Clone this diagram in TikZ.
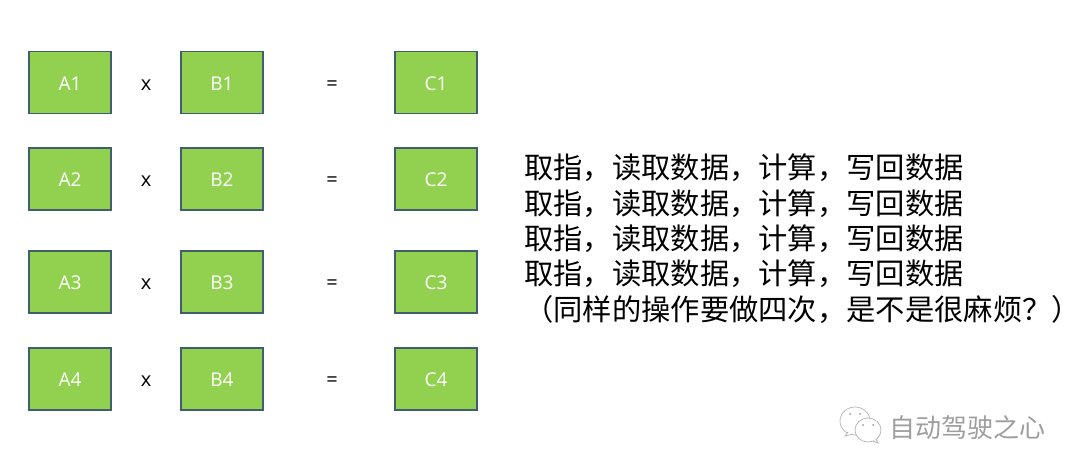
\documentclass[tikz,border=0pt]{standalone}
\usepackage{fontspec}
\setmainfont{Open Sans}
\newfontfamily\cjk{Noto Sans CJK SC}
\usetikzlibrary{positioning}
\definecolor{cellgreen}{HTML}{92D050}
\definecolor{celledge}{HTML}{3F5F6F}

\begin{document}
\begin{tikzpicture}[
	x=1pt, y=-1pt,
	cell/.style = {draw=celledge,fill=cellgreen,line width=1.5pt,minimum width=82pt,minimum height=62pt,inner sep=0pt,text=white,text height=15pt,text depth=0pt,font=\fontsize{19}{20}\selectfont},
	sign/.style = {inner sep=0pt,font=\fontsize{20}{20}\selectfont},
	fetchline/.style = {anchor=west,inner sep=0pt,font=\cjk\fontsize{29.3}{32}\selectfont},
	brandtext/.style = {anchor=west,inner sep=0pt,text=black!38,font=\cjk\fontsize{26}{28}\selectfont},
	bubble/.style = {draw=black!30,fill=white,line width=0.7pt}
  ]
	\useasboundingbox (0,0) rectangle (1080,474);

	% four rows of operands
	\foreach \row/\ypos in {1/82.5,2/179,3/282,4/379} {
		\node[cell] (A\row) at (70,\ypos) {A\row};
		\node[cell] (B\row) at (222,\ypos) {B\row};
		\node[cell] (C\row) at (436,\ypos) {C\row};
		\node[sign] (times\row) at (146,\ypos+2.5) {x};
		\node[sign] (equals\row) at (332,\ypos+3) {=};
	}

	% the text on the right
	\foreach \line/\ypos in {1/168,2/204,3/239,4/274} {
		\node[fetchline] (fetch\line) at (524,\ypos) {取指，读取数据，计算，写回数据};
	}
	\node[fetchline] (remark) at (524,310) {（同样的操作要做四次，是不是很麻烦？）};

	% chat bubbles and name at the lower right
	\draw[bubble] (855,421) ellipse (15 and 14);
	\draw[bubble] (848,432) -- (845,436) -- (853,434);
	\draw[bubble] (868,430) ellipse (13 and 12);
	\draw[bubble] (873,441) -- (878,443) -- (876,439);
	\fill[black!40] (850,414) circle (1);
	\fill[black!40] (860,414) circle (1);
	\fill[black!40] (863,425) circle (1);
	\fill[black!40] (873,425) circle (1);
	\node[brandtext] (brand) at (889,428) {自动驾驶之心};
\end{tikzpicture}
\end{document}
